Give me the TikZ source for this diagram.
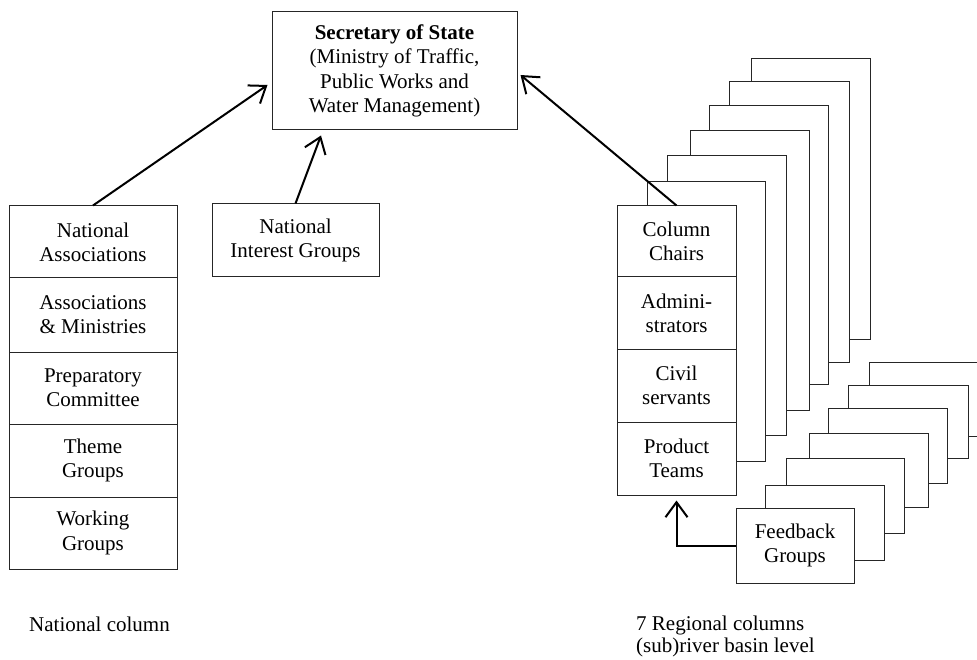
\documentclass[tikz,border=0pt]{standalone}
\usepackage{fontspec}
\setmainfont{Liberation Serif}
\usetikzlibrary{arrows.meta,calc}
\begin{document}
\begin{tikzpicture}[x=1pt,y=1pt,
  box/.style={draw=black!85,line width=1pt,fill=white,inner sep=0pt,align=center,
    font=\fontsize{21}{24.3}\selectfont},
  back/.style={draw=black!85,line width=1pt,fill=white},
  lbl/.style={inner sep=0pt,align=left,font=\fontsize{21}{22}\selectfont},
  arr/.style={line width=2pt,-{Straight Barb[length=15pt,width=22pt,line width=2pt]}}]
\useasboundingbox (0,0) rectangle (977,-660);
\clip (0,0) rectangle (977,-660);

% Secretary of State
\node[box,minimum width=245pt,minimum height=118pt] (sec) at (394.5,-71)
  {\textbf{Secretary of State}\\(Ministry of Traffic,\\Public Works and\\Water Management)};

% National column
\node[box,minimum width=168pt,minimum height=72pt] (n1) at (93,-242) {National\\Associations};
\node[box,minimum width=168pt,minimum height=74pt] (n2) at (93,-315) {Associations\\\& Ministries};
\node[box,minimum width=168pt,minimum height=72pt] (n3) at (93,-388) {Preparatory\\Committee};
\node[box,minimum width=168pt,minimum height=73pt] (n4) at (93,-460.5) {Theme\\Groups};
\node[box,minimum width=168pt,minimum height=72pt] (n5) at (93,-533) {Working\\Groups};

% National Interest Groups
\node[box,minimum width=167pt,minimum height=73pt] (nig) at (295.5,-240.5) {National\\Interest Groups};

% Regional column stack (back copies)
\draw[back] (751,-59) rectangle (870,-339);
\draw[back] (729,-82) rectangle (849,-362);
\draw[back] (709,-106) rectangle (828,-384);
\draw[back] (690,-131) rectangle (809,-410);
\draw[back] (667,-156) rectangle (786,-435);
\draw[back] (647,-182) rectangle (765,-461);

% Regional column (front)
\node[box,minimum width=119pt,minimum height=71pt] (r1) at (676.5,-241.5) {Column\\Chairs};
\node[box,minimum width=119pt,minimum height=72pt] (r2) at (676.5,-313) {Admini-\\strators};
\node[box,minimum width=119pt,minimum height=73pt] (r3) at (676.5,-385.5) {Civil\\servants};
\node[box,minimum width=119pt,minimum height=73pt] (r4) at (676.5,-458.5) {Product\\Teams};

% Feedback groups stack (back copies)
\draw[back] (869,-362) rectangle (988,-436);
\draw[back] (848,-385) rectangle (968,-458);
\draw[back] (828,-408) rectangle (947,-483);
\draw[back] (809,-433) rectangle (928,-507);
\draw[back] (786,-458) rectangle (904,-533);
\draw[back] (765,-485) rectangle (884,-560);
\node[box,minimum width=118pt,minimum height=75pt] (fb) at (795,-545.5) {Feedback\\Groups};

% Arrows
\draw[arr] (n1.north) -- ($(sec.west)+(-4,-14)$);
\draw[arr] (nig.north) -- ($(sec.south)+(-73.5,-5)$);
\draw[arr] (r1.north) -- ($(sec.east)+(3,-4)$);
\draw[arr] (fb.west) -| ($(r4.south)+(0,-5)$);

% Labels
\node[lbl,anchor=base west] (lnat) at (29,-631) {National column};
\node[lbl,anchor=north west] (lreg) at (636,-616) {7 Regional columns\\(sub)river basin level};
\end{tikzpicture}
\end{document}
